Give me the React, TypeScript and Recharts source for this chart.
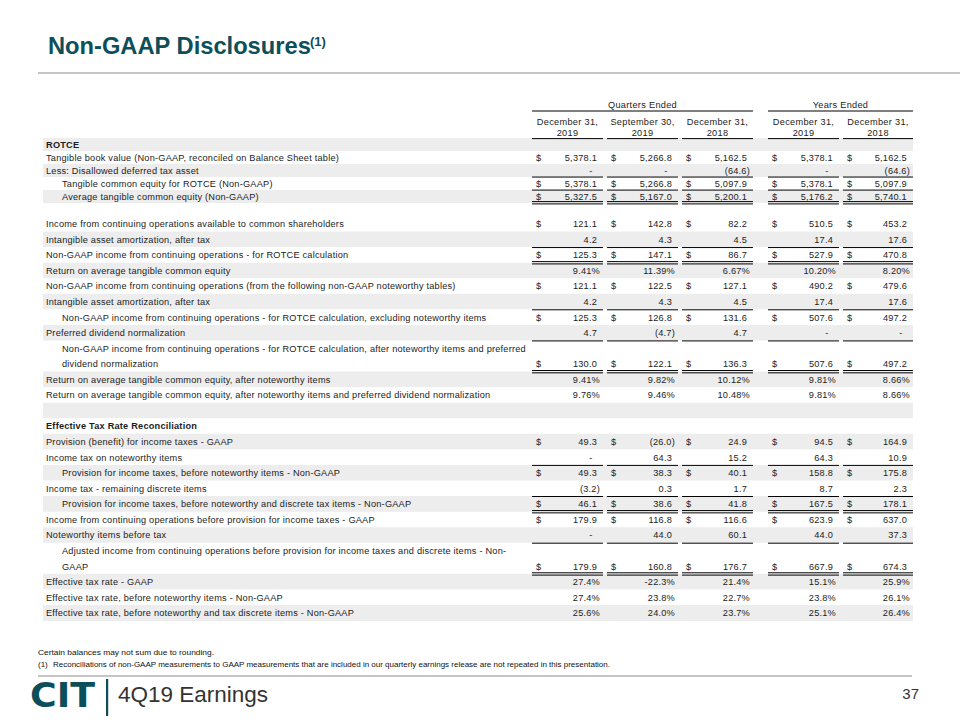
import React from "react";
import { BarChart, Bar, XAxis, YAxis, Cell, LabelList } from "recharts";

// header text
const groupHeaders = ["Quarters Ended", "Years Ended"];
const periodMonths = ["December 31,", "September 30,", "December 31,", "December 31,", "December 31,"];
const periodYears = ["2019", "2019", "2018", "2019", "2018"];

// ROTCE block (top, tighter rows)
const rotceLabels = [
  "ROTCE",
  "Tangible book value (Non-GAAP, reconciled on Balance Sheet table)",
  "Less: Disallowed deferred tax asset",
  "Tangible common equity for ROTCE (Non-GAAP)",
  "Average tangible common equity (Non-GAAP)",
  "",
];
const rotceValues: (string[] | null)[] = [
  null,
  ["5,378.1", "5,266.8", "5,162.5", "5,378.1", "5,162.5"],
  ["-", "-", "(64.6)", "-", "(64.6)"],
  ["5,378.1", "5,266.8", "5,097.9", "5,378.1", "5,097.9"],
  ["5,327.5", "5,167.0", "5,200.1", "5,176.2", "5,740.1"],
  null,
];
const rotceDollar = [false, true, false, true, true, false];

// income / tax block
const mainLabels = [
  "Income from continuing operations available to common shareholders",
  "Intangible asset amortization, after tax",
  "Non-GAAP income from continuing operations - for ROTCE calculation",
  "Return on average tangible common equity",
  "Non-GAAP income from continuing operations (from the following non-GAAP noteworthy tables)",
  "Intangible asset amortization, after tax",
  "Non-GAAP income from continuing operations - for ROTCE calculation, excluding noteworthy items",
  "Preferred dividend normalization",
  "Non-GAAP income from continuing operations - for ROTCE calculation, after noteworthy items and preferred",
  "dividend normalization",
  "Return on average tangible common equity, after noteworthy items",
  "Return on average tangible common equity, after noteworthy items and preferred dividend normalization",
  "",
  "Effective Tax Rate Reconciliation",
  "Provision (benefit) for income taxes - GAAP",
  "Income tax on noteworthy items",
  "Provision for income taxes, before noteworthy items - Non-GAAP",
  "Income tax - remaining discrete items",
  "Provision for income taxes, before noteworthy and discrete tax items - Non-GAAP",
  "Income from continuing operations before provision for income taxes - GAAP",
  "Noteworthy items before tax",
  "Adjusted income from continuing operations before provision for income taxes and discrete items - Non-",
  "GAAP",
  "Effective tax rate - GAAP",
  "Effective tax rate, before noteworthy items - Non-GAAP",
  "Effective tax rate, before noteworthy and tax discrete items - Non-GAAP",
];
const mainValues: (string[] | null)[] = [
  ["121.1", "142.8", "82.2", "510.5", "453.2"],
  ["4.2", "4.3", "4.5", "17.4", "17.6"],
  ["125.3", "147.1", "86.7", "527.9", "470.8"],
  ["9.41%", "11.39%", "6.67%", "10.20%", "8.20%"],
  ["121.1", "122.5", "127.1", "490.2", "479.6"],
  ["4.2", "4.3", "4.5", "17.4", "17.6"],
  ["125.3", "126.8", "131.6", "507.6", "497.2"],
  ["4.7", "(4.7)", "4.7", "-", "-"],
  null,
  ["130.0", "122.1", "136.3", "507.6", "497.2"],
  ["9.41%", "9.82%", "10.12%", "9.81%", "8.66%"],
  ["9.76%", "9.46%", "10.48%", "9.81%", "8.66%"],
  null,
  null,
  ["49.3", "(26.0)", "24.9", "94.5", "164.9"],
  ["-", "64.3", "15.2", "64.3", "10.9"],
  ["49.3", "38.3", "40.1", "158.8", "175.8"],
  ["(3.2)", "0.3", "1.7", "8.7", "2.3"],
  ["46.1", "38.6", "41.8", "167.5", "178.1"],
  ["179.9", "116.8", "116.6", "623.9", "637.0"],
  ["-", "44.0", "60.1", "44.0", "37.3"],
  null,
  ["179.9", "160.8", "176.7", "667.9", "674.3"],
  ["27.4%", "-22.3%", "21.4%", "15.1%", "25.9%"],
  ["27.4%", "23.8%", "22.7%", "23.8%", "26.1%"],
  ["25.6%", "24.0%", "23.7%", "25.1%", "26.4%"],
];
const mainDollar = [
  true, false, true, false, true, false, true, false, false, true, false, false, false,
  false, true, false, true, false, true, true, false, false, true, false, false, false,
];

// row styling (kept apart from the values)
const rotceShade = [1, 0, 1, 0, 1, 0];
const rotceIndent = [0, 0, 0, 1, 1, 0];
const rotceRule = [0, 0, 1, 1, 2, 0];
const rotceBold = [1, 0, 0, 0, 0, 0];

const mainShade = [0, 1, 0, 1, 0, 1, 0, 1, 0, 0, 1, 0, 1, 0, 1, 0, 1, 0, 1, 0, 1, 0, 0, 1, 0, 1];
const mainIndent = [0, 0, 0, 0, 0, 0, 1, 0, 1, 1, 0, 0, 0, 0, 0, 0, 1, 0, 1, 0, 0, 1, 1, 0, 0, 0];
const mainRule = [0, 1, 2, 0, 0, 1, 0, 1, 0, 2, 0, 0, 0, 0, 0, 1, 0, 1, 2, 0, 1, 0, 2, 0, 0, 0];
const mainBold = [0, 0, 0, 0, 0, 0, 0, 0, 0, 0, 0, 0, 0, 1, 0, 0, 0, 0, 0, 0, 0, 0, 0, 0, 0, 0];

const FONT = "'Liberation Sans', Arial, sans-serif";
const TEAL = "#0d4e5b";
const STRIPE = "#ededed";
const TEXT = "#1c1c1c";
const CELL_FONT = 9.2;
const CELL_SPACING = 0.22;
const TABLE_LEFT = 43;
const TABLE_RIGHT = 913;
const COLS: [number, number][] = [
  [532, 603],
  [607, 678],
  [682, 753],
  [768, 839],
  [843, 913],
];

function valueText(v: string, end: number, y: number, key: string) {
  if (v === "-") {
    return (
      <text key={key} x={end - 12} y={y} textAnchor="middle">
        -
      </text>
    );
  }
  const tight = /[)%]$/.test(v);
  return (
    <text key={key} x={end - (tight ? 3 : 6)} y={y} textAnchor="end">
      {v}
    </text>
  );
}

interface BlockProps {
  labels: string[];
  values: (string[] | null)[];
  dollar: boolean[];
  shade: number[];
  indent: number[];
  rule: number[];
  bold: number[];
  top: number;
  rowHeight: number;
}

function TableBlock({ labels, values, dollar, shade, indent, rule, bold, top, rowHeight }: BlockProps) {
  const height = rowHeight * labels.length;
  // every row is one full-width band; its fill comes from the shade style
  const data = labels.map((_, i) => ({ key: String(i), band: 1 }));

  const renderRow = (props: any) => {
    const idx = Number(props.value);
    const vb = props.viewBox || {};
    const y0 = Number(props.y ?? vb.y);
    const h = Number(props.height ?? vb.height) || rowHeight;
    const base = y0 + h / 2 + 3.2;
    const bottom = y0 + h;
    const vals = values[idx];
    return (
      <g
        key={`row-${idx}`}
        fontFamily={FONT}
        fontSize={CELL_FONT}
        fill={TEXT}
        style={{ letterSpacing: CELL_SPACING }}
      >
        <text
          x={TABLE_LEFT + 3 + (indent[idx] ? 16 : 0)}
          y={base}
          fontWeight={bold[idx] ? 700 : 400}
        >
          {labels[idx]}
        </text>
        {vals &&
          vals.map((v, c) => (
            <g key={c}>
              {dollar[idx] && (
                <text x={COLS[c][0] + 4} y={base}>
                  $
                </text>
              )}
              {valueText(v, COLS[c][1], base, `v${c}`)}
            </g>
          ))}
        {rule[idx] === 1 &&
          COLS.map(([a, b], c) => (
            <line key={`r${c}`} x1={a} x2={b} y1={bottom} y2={bottom} stroke="#000" strokeWidth={1} />
          ))}
        {rule[idx] === 2 &&
          COLS.map(([a, b], c) => (
            <g key={`d${c}`}>
              <line x1={a} x2={b} y1={bottom - 1.5} y2={bottom - 1.5} stroke="#000" strokeWidth={1} />
              <line x1={a} x2={b} y1={bottom + 0.8} y2={bottom + 0.8} stroke="#000" strokeWidth={1} />
            </g>
          ))}
      </g>
    );
  };

  return (
    <div style={{ position: "absolute", left: 0, top, width: 960, height }}>
      <BarChart
        width={960}
        height={height}
        data={data}
        layout="vertical"
        margin={{ top: 0, right: 960 - TABLE_RIGHT, bottom: 0, left: TABLE_LEFT }}
        barCategoryGap={0}
        barGap={0}
      >
        <XAxis type="number" domain={[0, 1]} hide />
        <YAxis type="category" dataKey="key" hide />
        <Bar dataKey="band" isAnimationActive={false}>
          {data.map((_, i) => (
            <Cell key={`cell-${i}`} fill={shade[i] ? STRIPE : "#ffffff"} />
          ))}
          <LabelList dataKey="key" content={renderRow} />
        </Bar>
      </BarChart>
    </div>
  );
}

export default function App() {
  const groupSpans: [number, number][] = [
    [COLS[0][0], COLS[2][1]],
    [COLS[3][0], COLS[4][1]],
  ];
  return (
    <div
      style={{
        position: "absolute",
        left: 0,
        top: 0,
        width: 960,
        height: 720,
        background: "#fff",
        overflow: "hidden",
        fontFamily: FONT,
      }}
    >
      <TableBlock
        labels={rotceLabels}
        values={rotceValues}
        dollar={rotceDollar}
        shade={rotceShade}
        indent={rotceIndent}
        rule={rotceRule}
        bold={rotceBold}
        top={138}
        rowHeight={13.03}
      />
      <TableBlock
        labels={mainLabels}
        values={mainValues}
        dollar={mainDollar}
        shade={mainShade}
        indent={mainIndent}
        rule={mainRule}
        bold={mainBold}
        top={216.2}
        rowHeight={15.56}
      />

      <svg
        width={960}
        height={720}
        style={{ position: "absolute", left: 0, top: 0, pointerEvents: "none" }}
      >
        {/* title */}
        <text x={48} y={53.5} fontFamily={FONT} fontSize={23.7} fontWeight={700} fill={TEAL}>
          Non-GAAP Disclosures
        </text>
        <text x={310} y={46} fontFamily={FONT} fontSize={13} fontWeight={700} fill={TEAL}>
          (1)
        </text>
        <line x1={38} x2={960} y1={73} y2={73} stroke="#8c8c8c" strokeWidth={1.2} />

        {/* column headers */}
        <g fontFamily={FONT} fontSize={CELL_FONT} fill={TEXT} style={{ letterSpacing: 0.3 }}>
          {groupHeaders.map((g, i) => (
            <g key={g}>
              <text x={(groupSpans[i][0] + groupSpans[i][1]) / 2} y={108} textAnchor="middle">
                {g}
              </text>
              <line
                x1={groupSpans[i][0]}
                x2={groupSpans[i][1]}
                y1={111}
                y2={111}
                stroke="#000"
                strokeWidth={1}
              />
            </g>
          ))}
          {COLS.map(([a, b], i) => (
            <g key={i}>
              <text x={(a + b) / 2} y={124.5} textAnchor="middle">
                {periodMonths[i]}
              </text>
              <text x={(a + b) / 2} y={136} textAnchor="middle">
                {periodYears[i]}
              </text>
              <line x1={a} x2={b} y1={138.6} y2={138.6} stroke="#000" strokeWidth={1} />
            </g>
          ))}
        </g>

        {/* footnotes */}
        <g fontFamily={FONT} fontSize={8} fill="#111">
          <text x={38} y={655} textLength={176} lengthAdjust="spacingAndGlyphs">
            Certain balances may not sum due to rounding.
          </text>
          <text x={38} y={667}>
            (1)
          </text>
          <text x={53} y={667} textLength={557} lengthAdjust="spacingAndGlyphs">
            Reconciliations of non-GAAP measurements to GAAP measurements that are included in our quarterly earnings release are not repeated in this presentation.
          </text>
        </g>
        <line x1={38} x2={912} y1={676} y2={676} stroke="#8c8c8c" strokeWidth={1.2} />

        {/* footer brand */}
        <text
          x={30}
          y={707}
          fontFamily="'DejaVu Sans', sans-serif"
          fontSize={33}
          fontWeight={700}
          fill={TEAL}
          textLength={65}
          lengthAdjust="spacingAndGlyphs"
        >
          CIT
        </text>
        <rect x={106} y={679} width={2.2} height={37} fill={TEAL} />
        <text
          x={118}
          y={702}
          fontFamily={FONT}
          fontSize={22}
          fill="#333333"
          textLength={150}
          lengthAdjust="spacingAndGlyphs"
        >
          4Q19 Earnings
        </text>
        <text x={919} y={699} fontFamily={FONT} fontSize={15} fill="#333333" textAnchor="end">
          37
        </text>
      </svg>
    </div>
  );
}
